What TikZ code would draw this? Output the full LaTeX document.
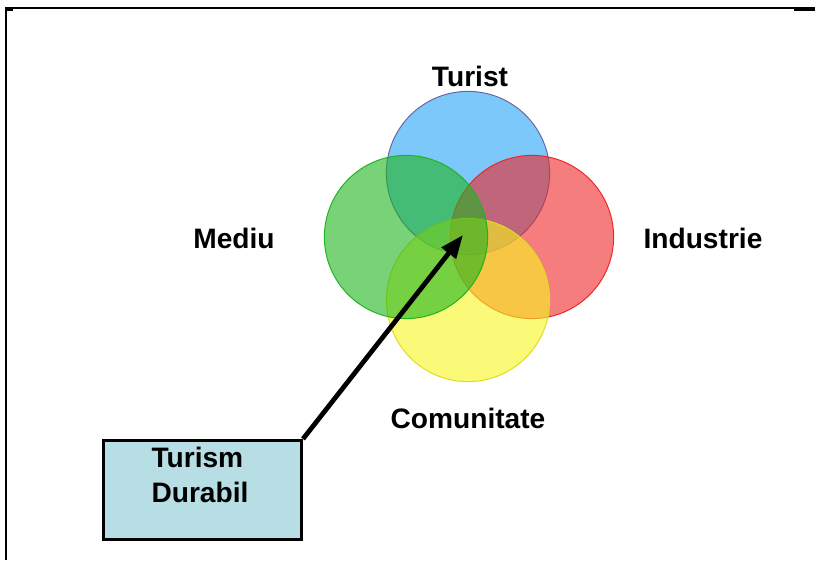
\documentclass[tikz,border=0pt]{standalone}
\usepackage{fontspec}
\setmainfont{Liberation Sans}
\usepackage{tikz}
\usetikzlibrary{arrows.meta}

\definecolor{touristblue}{RGB}{38,163,247}
\definecolor{envgreen}{RGB}{30,180,30}
\definecolor{industryred}{RGB}{238,38,38}
\definecolor{communityyellow}{RGB}{247,247,30}
\definecolor{boxfill}{RGB}{183,222,228}

\begin{document}
\begin{tikzpicture}[
    x=0.025cm, y=-0.025cm,
    ring/.style={circle, draw, line width=0.7pt, minimum size=4.08cm,
                 inner sep=0pt, fill opacity=0.6},
    lbl/.style={font=\fontsize{20}{24.5}\selectfont\bfseries, inner sep=0pt},
    box/.style={draw, line width=2.1pt, fill=boxfill, minimum width=4.95cm,
                minimum height=2.48cm, inner sep=0pt},
    arr/.style={-{Triangle[length=5.8mm, width=4.4mm]}, line width=3.4pt}
  ]
    \useasboundingbox (0,0) rectangle (815,560);
    % page frame
    \draw[line width=0.9pt] (6,560) -- (6,8) -- (815,8);
    \draw[line width=1.6pt] (5,10) -- (13,10);
    \draw[line width=1.6pt] (794,9.5) -- (815,9.5);

    % the four sets (green last, so it lies on top)
    \node[ring, draw=black!60!blue!60, fill=touristblue] (turist) at (468,173) {};
    \node[ring, draw=industryred, fill=industryred] (industrie) at (532,237) {};
    \node[ring, draw=communityyellow!90!black, fill=communityyellow] (comunitate) at (468,300) {};
    \node[ring, draw=envgreen, fill=envgreen] (mediu) at (406,237) {};

    \node[lbl, anchor=base] (turistlbl) at (470,86) {Turist};
    \node[lbl, anchor=base] (mediulbl) at (234,248) {Mediu};
    \node[lbl, anchor=base] (industrielbl) at (703,248) {Industrie};
    \node[lbl, anchor=base] (comunitatelbl) at (468,428) {Comunitate};

    % sustainable tourism box
    \node[box] (durabil) at (202.5,490) {};
    \node[lbl, align=left, anchor=north] (durabiltxt) at (200,447) {Turism\\Durabil};

    \coordinate (hub) at (463,235);
    \draw[arr] (durabil.north east) -- (hub);
  \end{tikzpicture}
\end{document}
